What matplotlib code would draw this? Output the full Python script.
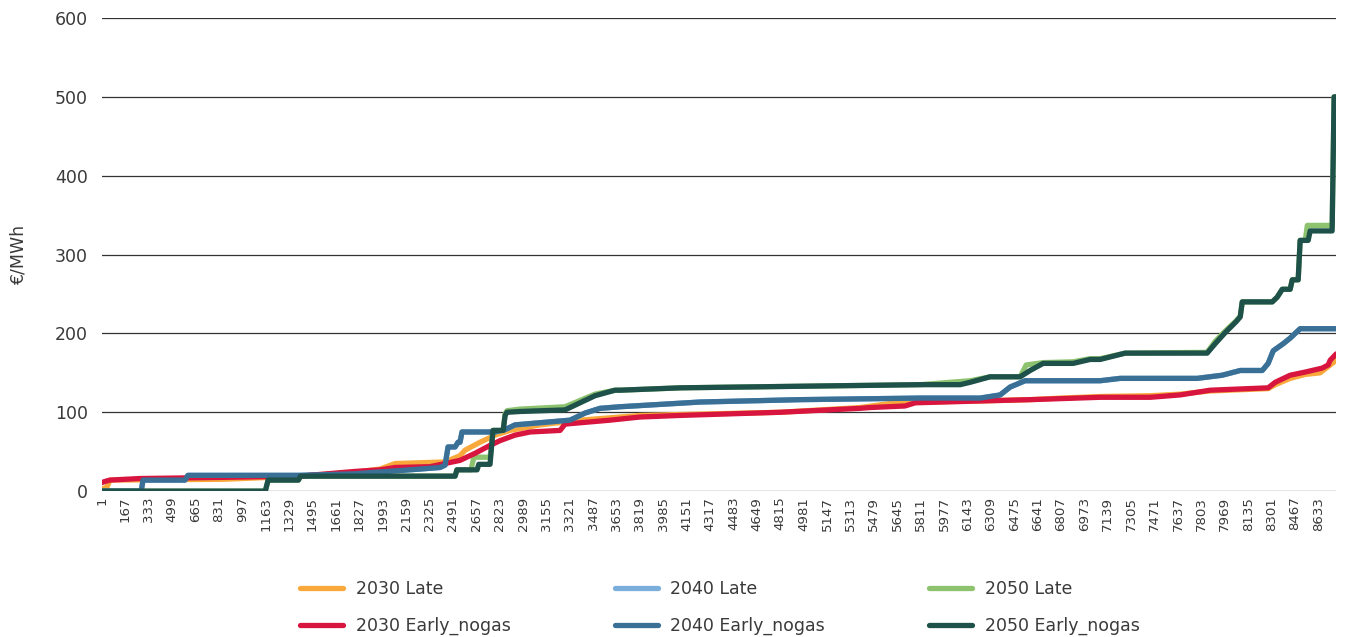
import numpy as np
import matplotlib
matplotlib.use("Agg")
import matplotlib.pyplot as plt

plt.rcParams['font.family'] = ['DejaVu Sans']

# price duration curves as (hour, €/MWh) points
h_2030_late = [1, 36, 58, 860, 1406, 1797, 1974, 2081, 2436, 2542, 2578, 2684, 2791, 2897, 3110,
               3394, 3820, 4813, 5381, 5630, 5807, 6162, 6588, 6801, 7085, 7440, 7652, 7865,
               8277, 8327, 8433, 8540, 8646, 8703, 8760]
v_2030_late = [3, 5, 14, 15, 19, 24, 28, 35, 37, 45, 52, 62, 71, 77, 84,
               90, 96, 100, 106, 112, 113, 114, 116, 118, 120, 121, 123, 127,
               130, 135, 143, 148, 150, 158, 166]

h_2030_early = [1, 36, 58, 271, 697, 1406, 1797, 1974, 2081, 2329, 2542, 2649, 2755, 2826, 2932,
                3039, 3252, 3287, 3607, 3820, 4104, 4813, 5381, 5452, 5700, 5772, 6162, 6588,
                7085, 7440, 7652, 7865, 8277, 8327, 8433, 8540, 8660, 8703, 8717, 8760]
v_2030_early = [11, 13, 14, 16, 17, 19, 25, 27, 30, 31, 39, 48, 58, 64, 71,
                75, 77, 85, 90, 94, 96, 100, 105, 106, 108, 112, 114, 116,
                119, 119, 122, 128, 131, 138, 147, 151, 156, 160, 166, 174]

h_2040_early = [1, 280, 292, 590, 611, 1406, 1797, 2258, 2400, 2436, 2457, 2507, 2528, 2542,
                2556, 2791, 2862, 2932, 3323, 3429, 3536, 3678, 4246, 4955, 5807, 6233, 6375,
                6446, 6552, 7085, 7227, 7773, 7951, 8079, 8235, 8277, 8313, 8384, 8433, 8504, 8760]
v_2040_early = [0, 0, 14, 14, 20, 20, 22, 28, 30, 33, 56, 56, 62, 62,
                75, 75, 78, 84, 90, 99, 105, 107, 113, 116, 118, 118, 122,
                132, 140, 140, 143, 143, 147, 153, 153, 162, 178, 187, 194, 206, 206]

h_2040_late = h_2040_early
v_2040_late = v_2040_early

h_2050_early = [1, 1160, 1180, 1395, 1410, 2507, 2520, 2663, 2675, 2755, 2776, 2848, 2862, 2875,
                2968, 3287, 3500, 3642, 3678, 4104, 4955, 5807, 6091, 6162, 6304, 6517, 6588,
                6680, 6893, 7014, 7085, 7262, 7844, 7901, 7972, 8050, 8079, 8093, 8306, 8341,
                8377, 8433, 8448, 8490, 8504, 8561, 8575, 8731, 8745, 8760]
v_2050_early = [0, 0, 14, 14, 19, 19, 27, 27, 34, 34, 77, 77, 96, 100,
                101, 103, 121, 128, 128, 131, 133, 135, 135, 138, 145, 145, 153,
                162, 162, 167, 167, 175, 175, 187, 201, 215, 221, 240, 240, 246,
                256, 256, 268, 268, 318, 318, 330, 330, 500, 500]

h_2050_late = [1, 1160, 1180, 1395, 1410, 2507, 2520, 2620, 2640, 2755, 2776, 2848, 2862, 2875,
               2968, 3287, 3500, 3642, 3678, 4104, 4955, 5807, 6020, 6162, 6304, 6517, 6560,
               6680, 6893, 7014, 7085, 7262, 7844, 7901, 7972, 8050, 8079, 8093, 8306, 8341,
               8377, 8433, 8448, 8490, 8504, 8540, 8555, 8731, 8745, 8760]
v_2050_late = [0, 0, 14, 14, 19, 19, 27, 27, 43, 43, 77, 77, 98, 102,
               104, 107, 123, 128, 128, 131, 133, 135, 138, 140, 145, 145, 160,
               163, 164, 168, 168, 175, 176, 190, 203, 216, 222, 240, 240, 246,
               256, 256, 268, 268, 318, 318, 337, 337, 500, 500]

series = [
    ("2030 Late", h_2030_late, v_2030_late, "#F9A93B"),
    ("2040 Late", h_2040_late, v_2040_late, "#7AAEDD"),
    ("2050 Late", h_2050_late, v_2050_late, "#8DC26F"),
    ("2030 Early_nogas", h_2030_early, v_2030_early, "#D7153F"),
    ("2040 Early_nogas", h_2040_early, v_2040_early, "#3A6F96"),
    ("2050 Early_nogas", h_2050_early, v_2050_early, "#1D5149"),
]
tick_hours = list(range(1, 8634, 166))

fig = plt.figure(figsize=(13.47, 6.37), dpi=100)
ax = fig.add_axes([0.0757, 0.229, 0.9163, 0.7427])

lines = {}
for name, h, v, col in series:
    ln, = ax.plot(h, v, color=col, lw=3.8, solid_capstyle='round',
                  solid_joinstyle='round', label=name)
    lines[name] = ln

ax.set_xlim(1, 8760)
ax.set_ylim(0, 600)
ax.set_yticks(range(0, 601, 100))
ax.set_xticks(tick_hours)
ax.set_xticklabels([str(t) for t in tick_hours], rotation=90, fontsize=9.6, color="#3a3a3a")
ax.tick_params(axis='y', length=0, pad=10, labelsize=12.5, labelcolor="#3a3a3a")
ax.tick_params(axis='x', length=0, pad=4)
ax.grid(axis='y', color="#333333", lw=0.9)
ax.set_axisbelow(True)
for s in ax.spines.values():
    s.set_visible(False)
ax.set_ylabel("€/MWh", fontsize=12.5, color="#3a3a3a", labelpad=20)

order = ["2030 Late", "2030 Early_nogas", "2040 Late", "2040 Early_nogas",
         "2050 Late", "2050 Early_nogas"]
fig.legend([lines[n] for n in order], order, ncol=3, loc='upper left',
           bbox_to_anchor=(300 / 1347, 1 - 580 / 637), frameon=False,
           fontsize=12.5, handlelength=2.5, handletextpad=0.7, columnspacing=6.0,
           labelspacing=1.1, borderpad=0, borderaxespad=0, labelcolor="#3a3a3a")

fig.savefig("out.png", dpi=100)
